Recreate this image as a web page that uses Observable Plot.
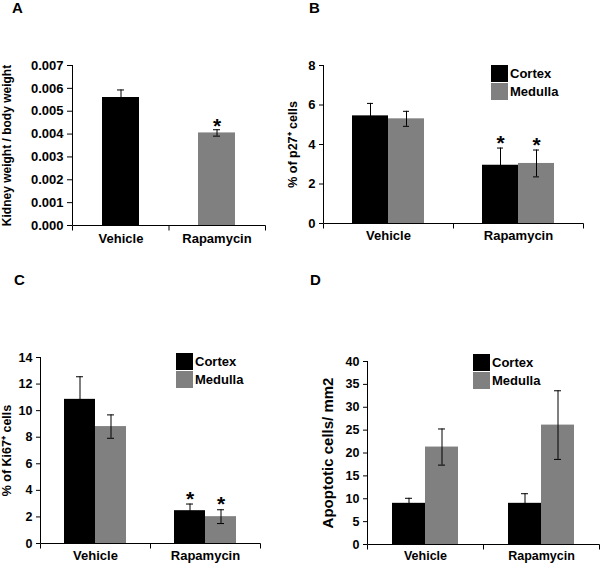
<!DOCTYPE html>
<html>
<head>
<meta charset="utf-8">
<script src="https://cdn.jsdelivr.net/npm/d3@7"></script>
<script src="https://cdn.jsdelivr.net/npm/@observablehq/plot@0.6"></script>
<style>
  body { margin: 0; background: #fff; }
  #fig { position: relative; width: 600px; height: 568px; background: #fff;
         font-family: "Liberation Sans", Arial, Helvetica, sans-serif; font-weight: bold; color: #000; }
  .panel { position: absolute; }
  .letter { position: absolute; font-size: 15px; line-height: 1; font-weight: bold; }
  .legend { position: absolute; font-size: 13px; font-weight: bold; }
  .legend .row { display: flex; align-items: center; height: 18px; }
  .legend .sw { width: 17px; height: 17px; margin-right: 2px; }
</style>
</head>
<body>
<div id="fig"></div>
<script>
// ---------- data ----------
const groups = ["Vehicle", "Rapamycin"];
const series = ["Cortex", "Medulla"];

// Panel A: kidney weight / body weight
const aValues = [0.0056, 0.00405];
const aErrors = [0.00033, 0.00014];
const aStars = [false, true];
const aTicks = [0, 0.001, 0.002, 0.003, 0.004, 0.005, 0.006, 0.007];

// Panel B: % of p27+ cells
const bCortex = [5.45, 2.95];
const bCortexErr = [0.63, 0.87];
const bMedulla = [5.3, 3.04];
const bMedullaErr = [0.38, 0.68];
const bStarsCortex = [false, true];
const bStarsMedulla = [false, true];
const bTicks = [0, 2, 4, 6, 8];

// Panel C: % of Ki67+ cells
const cCortex = [10.85, 2.47];
const cCortexErr = [1.7, 0.5];
const cMedulla = [8.8, 2.02];
const cMedullaErr = [0.88, 0.52];
const cStarsCortex = [false, true];
const cStarsMedulla = [false, true];
const cTicks = [0, 2, 4, 6, 8, 10, 12, 14];

// Panel D: apoptotic cells / mm2
const dCortex = [9.0, 9.0];
const dCortexErr = [1.1, 2.1];
const dMedulla = [21.3, 26.1];
const dMedullaErr = [3.95, 7.5];
const dStarsCortex = [false, false];
const dStarsMedulla = [false, false];
const dTicks = [0, 5, 10, 15, 20, 25, 30, 35, 40];

// ---------- helpers ----------
const FONT = '"Liberation Sans", Arial, Helvetica, sans-serif';
const BLACK = "#000000";
const GRAY = "#808080";
const fig = document.getElementById("fig");

function axisLines(nCats, facetSuper) {
  const render = (I, s, v, d) => {
    const l = d.marginLeft + 0.5, r = d.width - d.marginRight + 0.5;
    const t = d.marginTop, b = d.height - d.marginBottom + 0.5;
    const g = d3.create("svg:g").attr("stroke", "#000").attr("stroke-width", 1).attr("fill", "none");
    g.append("path").attr("d", `M${l},${t}V${b}H${r}`);
    const step = (r - l) / nCats;
    for (let k = 0; k <= nCats; k++) g.append("path").attr("d", `M${l + k * step},${b}v5`);
    return g.node();
  };
  return facetSuper ? Plot.frame({facet: "super", stroke: "none", render}) : render;
}

function place(node, left, top) {
  node.classList.add("panel");
  node.style.left = left + "px";
  node.style.top = top + "px";
  fig.appendChild(node);
}
function letter(t, left, top) {
  const d = document.createElement("div");
  d.className = "letter"; d.textContent = t;
  d.style.left = left + "px"; d.style.top = top + "px";
  fig.appendChild(d);
}
function legend(left, top) {
  const d = document.createElement("div");
  d.className = "legend";
  d.style.left = left + "px"; d.style.top = top + "px";
  series.forEach((s, i) => {
    const row = document.createElement("div"); row.className = "row";
    const sw = document.createElement("div"); sw.className = "sw";
    sw.style.background = i === 0 ? BLACK : GRAY;
    const tx = document.createElement("span"); tx.textContent = s;
    row.appendChild(sw); row.appendChild(tx); d.appendChild(row);
  });
  fig.appendChild(d);
}
function labelSize(chart, label, size) {
  chart.querySelectorAll("text").forEach(t => {
    if (t.textContent === label) t.setAttribute("font-size", size);
  });
}

// ---------- Panel A ----------
const aLabel = "Kidney weight / body weight";
const aData = groups.map((g, i) => ({group: g, value: aValues[i], err: aErrors[i], star: aStars[i]}));
const chartA = Plot.plot({
  width: 290, height: 285, marginLeft: 72, marginRight: 25, marginTop: 65, marginBottom: 60,
  style: {fontFamily: FONT, fontWeight: "bold", fontSize: "13px", background: "transparent", color: "#000"},
  x: {domain: groups, paddingInner: 0.617, paddingOuter: 0.3085},
  y: {domain: [0, 0.007]},
  color: {domain: groups, range: [BLACK, GRAY]},
  marks: [
    Plot.barY(aData, {x: "group", y: "value", fill: "group"}),
    Plot.ruleX(aData, {x: "group", y1: d => d.value - d.err, y2: d => d.value + d.err, stroke: "#000"}),
    Plot.tickY(aData, {x: "group", y: d => d.value + d.err, insetLeft: 15, insetRight: 15, stroke: "#000"}),
    Plot.tickY(aData, {x: "group", y: d => d.value - d.err, insetLeft: 15, insetRight: 15, stroke: "#000"}),
    Plot.text(aData.filter(d => d.star), {x: "group", y: d => d.value + d.err, text: () => "*",
      lineAnchor: "bottom", dy: 3, fontSize: 21, fontWeight: "bold"}),
    Plot.axisY({ticks: aTicks, tickFormat: d3.format(".3f"), tickSize: 5, tickPadding: 4, fontSize: 13,
      label: aLabel, labelAnchor: "center", labelOffset: 70, labelArrow: "none"}),
    Plot.axisX({tickSize: 0, tickPadding: 8, fontSize: 13, label: null}),
    axisLines(groups.length, false)
  ]
});
labelSize(chartA, aLabel, 12);
place(chartA, 0, 0);

// ---------- grouped panels ----------
function grouped(cfg) {
  const data = groups.flatMap((g, i) => [
    {group: g, series: "Cortex", value: cfg.cortex[i], err: cfg.cortexErr[i], star: cfg.starsCortex[i]},
    {group: g, series: "Medulla", value: cfg.medulla[i], err: cfg.medullaErr[i], star: cfg.starsMedulla[i]}
  ]);
  const chart = Plot.plot({
    width: cfg.width, height: cfg.height,
    marginLeft: cfg.ml, marginRight: cfg.mr, marginTop: cfg.mt, marginBottom: cfg.mb,
    style: {fontFamily: FONT, fontWeight: "bold", fontSize: "13px", background: "transparent", color: "#000", overflow: "visible"},
    fx: {domain: groups, paddingInner: 0, paddingOuter: 0},
    x: {domain: series, paddingInner: 0, paddingOuter: 0.757, axis: null},
    y: {domain: cfg.domain},
    color: {domain: series, range: [BLACK, GRAY]},
    marks: [
      Plot.barY(data, {fx: "group", x: "series", y: "value", fill: "series"}),
      Plot.ruleX(data, {fx: "group", x: "series", y1: d => d.value - d.err, y2: d => d.value + d.err, stroke: "#000"}),
      Plot.tickY(data, {fx: "group", x: "series", y: d => d.value + d.err, insetLeft: cfg.capInset, insetRight: cfg.capInset, stroke: "#000"}),
      Plot.tickY(data, {fx: "group", x: "series", y: d => d.value - d.err, insetLeft: cfg.capInset, insetRight: cfg.capInset, stroke: "#000"}),
      Plot.text(data.filter(d => d.star), {fx: "group", x: "series", y: d => d.value + d.err, text: () => "*",
        lineAnchor: "bottom", dy: cfg.starDy, fontSize: 21, fontWeight: "bold"}),
      Plot.axisY({ticks: cfg.ticks, tickSize: 4, tickPadding: 4, fontSize: cfg.tickSize,
        label: cfg.label, labelAnchor: "center", labelOffset: cfg.labelOffset, labelArrow: "none"}),
      Plot.axisFx({anchor: "bottom", tickSize: 0, tickPadding: 7, fontSize: cfg.catSize, label: null}),
      axisLines(groups.length, true)
    ]
  });
  labelSize(chart, cfg.label, cfg.labelSize);
  return chart;
}

const chartB = grouped({
  cortex: bCortex, cortexErr: bCortexErr, medulla: bMedulla, medullaErr: bMedullaErr,
  starsCortex: bStarsCortex, starsMedulla: bStarsMedulla, ticks: bTicks, domain: [0, 8],
  label: "% of p27\u207A cells", labelSize: 12.5, labelOffset: 35, tickSize: 13, catSize: 13,
  width: 315, height: 285, ml: 38, mr: 17, mt: 65, mb: 62, capInset: 15, starDy: 2
});
place(chartB, 285, 0);

const chartC = grouped({
  cortex: cCortex, cortexErr: cCortexErr, medulla: cMedulla, medullaErr: cMedullaErr,
  starsCortex: cStarsCortex, starsMedulla: cStarsMedulla, ticks: cTicks, domain: [0, 14],
  label: "% of Ki67\u207A cells", labelSize: 12.5, labelOffset: 38, tickSize: 12.5, catSize: 13,
  width: 290, height: 283, ml: 39, mr: 30, mt: 72, mb: 25, capInset: 12, starDy: 1.5
});
place(chartC, 0, 285);

const chartD = grouped({
  cortex: dCortex, cortexErr: dCortexErr, medulla: dMedulla, medullaErr: dMedullaErr,
  starsCortex: dStarsCortex, starsMedulla: dStarsMedulla, ticks: dTicks, domain: [0, 40],
  label: "Apoptotic cells/ mm2", labelSize: 15, labelOffset: 45, tickSize: 12.5, catSize: 12.5,
  width: 300, height: 283, ml: 67, mr: 1, mt: 76, mb: 24, capInset: 13, starDy: 2
});
place(chartD, 300, 285);

letter("A", 12, 0);
letter("B", 309, 0);
letter("C", 14, 272);
letter("D", 310, 272);

legend(491, 64);
legend(176, 352);
legend(473, 353);
</script>
</body>
</html>
